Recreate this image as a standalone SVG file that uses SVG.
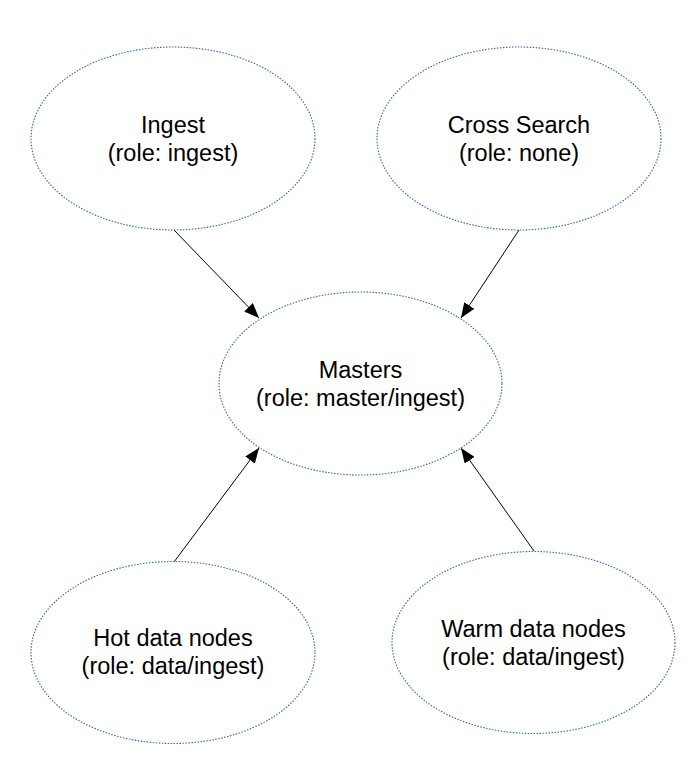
<svg xmlns="http://www.w3.org/2000/svg" width="692" height="759" viewBox="0 0 692 759">
<style>
.node ellipse{fill:#fff;stroke:#3465a4;stroke-width:1.1;stroke-dasharray:1.5 1.5}
.node text{font-family:"Liberation Sans",Arial,sans-serif;font-size:23.5px;fill:#000;text-anchor:middle}
.edge{stroke:#000;stroke-width:1;fill:none;marker-end:url(#ah)}
</style>
<defs>
<marker id="ah" markerWidth="16" markerHeight="12" refX="15" refY="6" orient="auto" markerUnits="userSpaceOnUse">
<path d="M0,0 L15,6 L0,12 z" fill="#000"/>
</marker>
</defs>
<rect width="692" height="759" fill="#fff"/>
<g id="connectors">
<line class="edge" x1="174" y1="230" x2="259" y2="318"/>
<line class="edge" x1="519" y1="230" x2="461" y2="318"/>
<line class="edge" x1="174" y1="562" x2="259" y2="448"/>
<line class="edge" x1="534" y1="551" x2="461" y2="448"/>
</g>
<g id="ingest" class="node">
<ellipse cx="173" cy="138.5" rx="142" ry="91.5"/>
<text x="173" y="133">Ingest</text>
<text x="173" y="161">(role: ingest)</text>
</g>
<g id="cross" class="node">
<ellipse cx="519" cy="138.5" rx="142" ry="91.5"/>
<text x="519" y="133">Cross Search</text>
<text x="519" y="161">(role: none)</text>
</g>
<g id="masters" class="node">
<ellipse cx="360.5" cy="383.5" rx="141.5" ry="91.5"/>
<text x="360.5" y="378">Masters</text>
<text x="360.5" y="406">(role: master/ingest)</text>
</g>
<g id="hot" class="node">
<ellipse cx="173" cy="652.5" rx="142" ry="91"/>
<text x="173" y="646">Hot data nodes</text>
<text x="173" y="674">(role: data/ingest)</text>
</g>
<g id="warm" class="node">
<ellipse cx="533.5" cy="642.5" rx="141.5" ry="91"/>
<text x="533.5" y="637">Warm data nodes</text>
<text x="533.5" y="665">(role: data/ingest)</text>
</g>
</svg>
